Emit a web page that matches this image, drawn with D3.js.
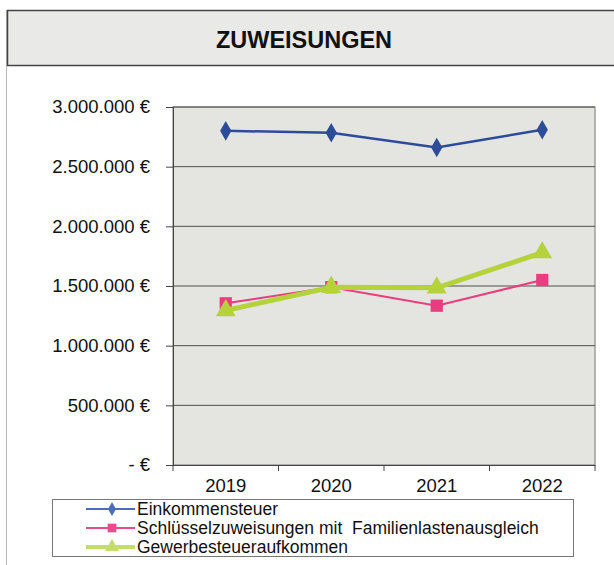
<!DOCTYPE html>
<html>
<head>
<meta charset="utf-8">
<script src="https://cdn.jsdelivr.net/npm/d3@7"></script>
<style>
  body { margin: 0; background: #fff; }
  svg text { font-family: "Liberation Sans", Arial, sans-serif; fill: #111; }
</style>
</head>
<body>
<div id="chart"></div>
<script>
const years = ["2019", "2020", "2021", "2022"];
const einkommensteuer = [2800000, 2785000, 2660000, 2810000];
const schluesselzuweisungen = [1355000, 1490000, 1335000, 1550000];
const gewerbesteuer = [1295000, 1490000, 1485000, 1780000];
const yTicks = [0, 500000, 1000000, 1500000, 2000000, 2500000, 3000000];
const seriesNames = ["Einkommensteuer", "Schlüsselzuweisungen mit  Familienlastenausgleich", "Gewerbesteueraufkommen"];

const margin = { top: 107, right: 19, bottom: 100, left: 173 }
const W = 614, H = 565;
const width = W - margin.left - margin.right;
const height = 465 - margin.top;

const svg = d3.select("#chart").append("svg")
    .attr("width", W)
    .attr("height", H);

// outer frame and title box
svg.append("line")
    .attr("x1", 6.5).attr("x2", 6.5).attr("y1", 10).attr("y2", H)
    .attr("stroke", "#b8b8b8").attr("stroke-width", 1);

svg.append("rect")
    .attr("x", 7.5).attr("y", 10.5)
    .attr("width", W).attr("height", 55)
    .attr("fill", "#e9e9e7")
    .attr("stroke", "#444").attr("stroke-width", 1.5);

svg.append("text")
    .attr("x", 304).attr("y", 48)
    .attr("text-anchor", "middle")
    .attr("font-size", 23.5).attr("font-weight", "bold")
    .attr("textLength", 176).attr("lengthAdjust", "spacingAndGlyphs")
    .text("ZUWEISUNGEN");

const g = svg.append("g")
    .attr("transform", `translate(${margin.left}, ${margin.top})`);

const x = d3.scaleBand().domain(years).range([0, width]);
const y = d3.scaleLinear().domain([0, 3000000]).range([height, 0]);

g.append("rect")
    .attr("width", width).attr("height", height)
    .attr("fill", "#e4e5e1")
    .attr("stroke", "#8a8a8a").attr("stroke-width", 1.2);

g.selectAll(".grid")
    .data(yTicks.slice(1))
    .join("line")
    .attr("x1", 0).attr("x2", width)
    .attr("y1", d => y(d)).attr("y2", d => y(d))
    .attr("stroke", "#505050").attr("stroke-width", 1);

const fmt = d => d === 0 ? "- €" : d3.format(",")(d).replace(/,/g, ".") + " €";

g.append("g")
    .call(d3.axisLeft(y).tickValues(yTicks).tickSize(7).tickPadding(16).tickFormat(fmt))
    .call(a => a.select(".domain").attr("stroke", "#444"))
    .call(a => a.selectAll(".tick line").attr("stroke", "#444"))
    .selectAll(".tick text")
    .attr("font-size", 18.5)
    .attr("fill", "#111");

g.append("g")
    .attr("transform", `translate(0, ${height})`)
    .call(d3.axisBottom(x).tickSize(0).tickPadding(14))
    .call(a => a.select(".domain").attr("stroke", "#444"))
    .selectAll(".tick text")
    .attr("font-size", 18.5)
    .attr("fill", "#111");

// category boundary ticks
g.selectAll(".xtick")
    .data(years)
    .join("line")
    .attr("x1", d => x(d)).attr("x2", d => x(d))
    .attr("y1", height).attr("y2", height + 6)
    .attr("stroke", "#444");
g.append("line")
    .attr("x1", width).attr("x2", width)
    .attr("y1", height).attr("y2", height + 6)
    .attr("stroke", "#444");

const series = [
    { name: seriesNames[0], values: einkommensteuer, color: "#2c4c9a", width: 2.5, symbol: d3.symbolDiamond, size: 110 },
    { name: seriesNames[1], values: schluesselzuweisungen, color: "#ea3d7f", width: 2, symbol: d3.symbolSquare, size: 150 },
    { name: seriesNames[2], values: gewerbesteuer, color: "#b6d23a", width: 5, symbol: d3.symbolTriangle, size: 170 }
];

const cx = d => x(d) + x.bandwidth() / 2;

series.forEach(s => {
    const pts = years.map((yr, i) => [cx(yr), y(s.values[i])]);
    g.append("path")
        .datum(pts)
        .attr("fill", "none")
        .attr("stroke", s.color)
        .attr("stroke-width", s.width)
        .attr("d", d3.line());
    g.selectAll(null)
        .data(pts)
        .join("path")
        .attr("transform", d => `translate(${d[0]}, ${d[1]})`)
        .attr("d", d3.symbol().type(s.symbol).size(s.size))
        .attr("fill", s.color);
});

// legend
const legend = svg.append("g");
legend.append("rect")
    .attr("x", 52.5).attr("y", 499.5)
    .attr("width", 521).attr("height", 57)
    .attr("fill", "#fff")
    .attr("stroke", "#777").attr("stroke-width", 1);

const legendColors = ["#4a6cbc", "#ec4a8a", "#c4dc6a"];

series.forEach((s, i) => {
    const ly = 509 + i * 19;
    legend.append("line")
        .attr("x1", 86).attr("x2", 135)
        .attr("y1", ly).attr("y2", ly)
        .attr("stroke", legendColors[i])
        .attr("stroke-width", i === 2 ? 4 : 2);
    legend.append("path")
        .attr("transform", `translate(112, ${ly})`)
        .attr("d", d3.symbol().type(s.symbol).size(s.size * 0.5))
        .attr("fill", legendColors[i]);
    legend.append("text")
        .attr("x", 137).attr("y", ly + 6)
        .attr("font-size", 17.5)
        .style("white-space", "pre")
        .text(s.name);
});
</script>
</body>
</html>
